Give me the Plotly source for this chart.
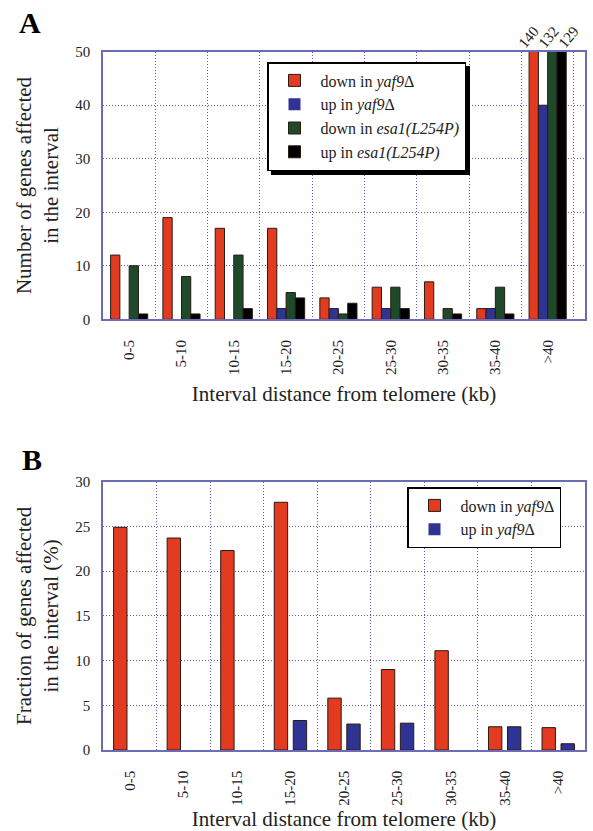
import plotly.graph_objects as go

# ---------------- data ----------------
categories = ["0-5", "5-10", "10-15", "15-20", "20-25", "25-30", "30-35", "35-40", ">40"]

# Panel A: number of genes affected in the interval
a_down_yaf9 = [12, 19, 17, 17, 4, 6, 7, 2, 140]
a_up_yaf9 = [0, 0, 0, 2, 2, 2, 0, 2, 40]
a_down_esa1 = [10, 8, 12, 5, 1, 6, 2, 6, 132]
a_up_esa1 = [1, 1, 2, 4, 3, 2, 1, 1, 129]

# Panel B: fraction of genes affected in the interval (%)
b_down_yaf9 = [24.9, 23.7, 22.3, 27.7, 5.8, 9.0, 11.1, 2.6, 2.5]
b_up_yaf9 = [0, 0, 0, 3.3, 2.9, 3.0, 0, 2.6, 0.7]

a_y_max = 50
b_y_max = 30

# ---------------- style ----------------
W, H = 593, 831
FONT = "Liberation Serif"
RED = "#e23b1f"
BLUE = "#2f3494"
GREEN = "#1f4a2a"
BLACK = "#000000"
GRID = "#5858c0"
FRAME = "#6b6bb6"
OUTLINE = "#2a1a14"
TXT = "#222222"

# plot areas in pixels
PX_L, PX_R = 103, 585
A_TOP, A_BOT = 51.7, 319.3
B_TOP, B_BOT = 481.7, 750

def fx(px):
    return px / W

def fy(py):
    return 1 - py / H

fig = go.Figure()

a_series = [
    ("down in <i>yaf9</i>Δ", a_down_yaf9, RED),
    ("up in <i>yaf9</i>Δ", a_up_yaf9, BLUE),
    ("down in <i>esa1(L254P)</i>", a_down_esa1, GREEN),
    ("up in <i>esa1(L254P)</i>", a_up_esa1, BLACK),
]
for name, vals, col in a_series:
    fig.add_trace(go.Bar(
        x=categories, y=vals, name=name, xaxis="x", yaxis="y",
        marker=dict(color=col, line=dict(color=OUTLINE, width=[1 if v else 0 for v in vals])),
        legend="legend",
    ))

b_series = [
    ("down in <i>yaf9</i>Δ", b_down_yaf9, RED),
    ("up in <i>yaf9</i>Δ", b_up_yaf9, BLUE),
]
A_BARGAP = 0.29
B_BARGAP = 0.5
for name, vals, col in b_series:
    fig.add_trace(go.Bar(
        x=categories, y=vals, name=name, xaxis="x2", yaxis="y2",
        width=(1 - B_BARGAP) / len(b_series),
        marker=dict(color=col, line=dict(color=OUTLINE, width=[1 if v else 0 for v in vals])),
        legend="legend2",
    ))

GRID_DASH = "1px,2px"

def xaxis_style(anchor):
    return dict(
        domain=[fx(PX_L), fx(PX_R)],
        anchor=anchor,
        type="category",
        categoryorder="array",
        categoryarray=categories,
        tickson="boundaries",
        showgrid=True, griddash=GRID_DASH, gridcolor=GRID, gridwidth=1.3,
        showline=True, mirror=True, linecolor=FRAME, linewidth=1.5,
        ticks="", tickangle=-90, ticklabelstandoff=13,
        tickfont=dict(family=FONT, size=15, color=TXT),
        title=dict(text="Interval distance from telomere (kb)",
                   font=dict(family=FONT, size=21, color=TXT), standoff=12),
        automargin=False,
    )

def yaxis_style(anchor, top, bot, ymax, dtick, title):
    return dict(
        domain=[fy(bot), fy(top)],
        anchor=anchor,
        range=[0, ymax], dtick=dtick,
        showgrid=True, griddash=GRID_DASH, gridcolor=GRID, gridwidth=1.3,
        zeroline=False,
        showline=True, mirror=True, linecolor=FRAME, linewidth=1.5,
        ticks="", ticklabelstandoff=8,
        tickfont=dict(family=FONT, size=15, color=TXT),
        title=dict(text=title, font=dict(family=FONT, size=21, color=TXT), standoff=11),
        automargin=False,
    )

LEG_FONT = dict(family=FONT, size=16, color=TXT)
fig.update_layout(
    width=W, height=H,
    margin=dict(l=0, r=0, t=0, b=0, autoexpand=False),
    paper_bgcolor="white", plot_bgcolor="white",
    barmode="group",
    bargap=A_BARGAP,
    font=dict(family=FONT, color=TXT),
    xaxis=xaxis_style("y"),
    yaxis=yaxis_style("x", A_TOP, A_BOT, a_y_max, 10,
                      "Number of genes affected<br>in the interval"),
    xaxis2=xaxis_style("y2"),
    yaxis2=yaxis_style("x2", B_TOP, B_BOT, b_y_max, 5,
                       "Fraction of genes affected<br>in the interval (%)"),
    legend=dict(
        x=fx(267), y=fy(62), xanchor="left", yanchor="top",
        bgcolor="white", bordercolor="black", borderwidth=1.5,
        font=LEG_FONT, tracegroupgap=0, itemwidth=42,
    ),
    legend2=dict(
        x=fx(407), y=fy(487), xanchor="left", yanchor="top",
        bgcolor="white", bordercolor="black", borderwidth=1.5,
        font=LEG_FONT, tracegroupgap=0, itemwidth=42,
    ),
    showlegend=True,
)

# panel letters
fig.add_annotation(text="<b>A</b>", x=fx(30), y=fy(23), xref="paper", yref="paper",
                   xanchor="center", yanchor="middle", showarrow=False,
                   font=dict(family=FONT, size=30, color="black"))
fig.add_annotation(text="<b>B</b>", x=fx(32), y=fy(459), xref="paper", yref="paper",
                   xanchor="center", yanchor="middle", showarrow=False,
                   font=dict(family=FONT, size=30, color="black"))

# value labels for bars that exceed the panel A axis range, fanned out above the group
LABEL_SPACING = 20
for cat_i, cat in enumerate(categories):
    over = [vals[cat_i] for _, vals, _ in a_series if vals[cat_i] > a_y_max]
    for k, v in enumerate(over):
        fig.add_annotation(
            text=str(v), x=cat, y=a_y_max, xref="x", yref="y",
            showarrow=False, textangle=-50, xanchor="center", yanchor="middle",
            xshift=(k - (len(over) - 1) / 2) * LABEL_SPACING + 1, yshift=15,
            font=dict(family=FONT, size=15, color=TXT),
        )

# drop shadow behind each legend box (decoration only)
shadow_js = """
document.body.style.margin='0';document.body.style.overflow='hidden';
document.querySelectorAll('g.legend').forEach(function(g){
  var bg = g.querySelector('rect.bg');
  if(!bg) return;
  var sh = bg.cloneNode(true);
  sh.setAttribute('class','legendshadow');
  sh.style.fill='#000'; sh.style.stroke='#000';
  var t = bg.getAttribute('transform') || '';
  sh.setAttribute('transform', t + ' translate(4,4)');
  bg.parentNode.insertBefore(sh, bg);
});
"""

fig.write_html(
    "out.html",
    config={"displayModeBar": False},
    post_script=shadow_js,
)
